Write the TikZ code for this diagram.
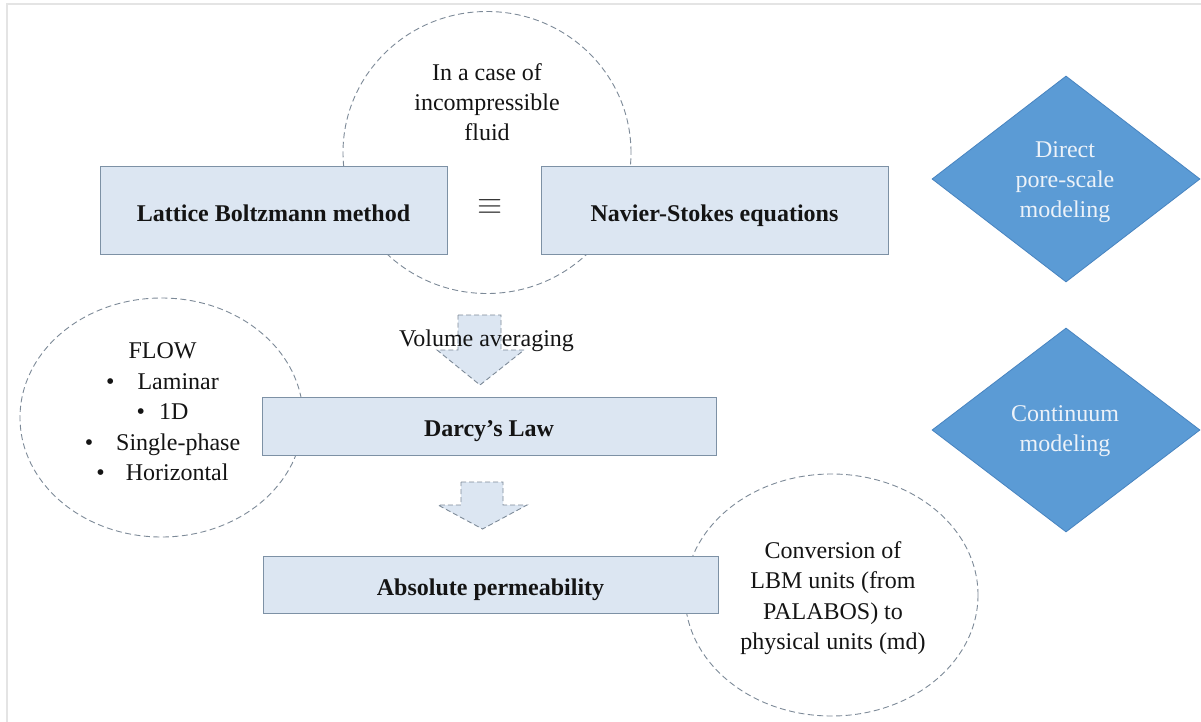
\documentclass[tikz,border=0pt]{standalone}
\usepackage{fontspec}
\setmainfont{Liberation Serif}
\usetikzlibrary{shapes.geometric}
\definecolor{boxfill}{RGB}{220,230,242}
\definecolor{boxdraw}{RGB}{125,145,165}
\definecolor{dashgray}{RGB}{125,138,152}
\definecolor{diafill}{RGB}{91,155,213}
\definecolor{diadraw}{RGB}{72,132,192}
\definecolor{diatext}{RGB}{236,242,249}
\definecolor{txt}{RGB}{20,20,20}
\definecolor{framegray}{RGB}{228,228,228}
\begin{document}
\begin{tikzpicture}[x=1pt,y=-1pt,
  box/.style={rectangle, draw=boxdraw, fill=boxfill, line width=1pt, inner sep=0pt,
    font=\fontsize{24}{30}\selectfont\bfseries, text=txt, text height=21pt, text depth=0pt},
  dashell/.style={ellipse, draw=dashgray, dash pattern=on 6pt off 3.5pt, line width=0.9pt, inner sep=0pt},
  lbl/.style={font=\fontsize{24}{30}\selectfont, text=txt, align=center, inner sep=0pt},
  dia/.style={diamond, fill=diafill, draw=diadraw, line width=0.8pt, inner sep=0pt},
  diatxt/.style={font=\fontsize{24}{30}\selectfont, text=diatext, align=center, inner sep=0pt},
  blockarrow/.style={fill=boxfill, draw=dashgray, dash pattern=on 5pt off 3pt, line width=0.9pt, line join=miter}]
% canvas
\fill[white] (0,0) rectangle (1201,722);
\useasboundingbox (0,0) rectangle (1201,722);
\draw[framegray, line width=2pt] (7,722) -- (7,4) -- (1201,4);

% dashed ellipses (behind boxes)
\node[dashell, minimum width=288pt, minimum height=282pt] (topcirc) at (487,152.5) {};
\node[dashell, minimum width=283pt, minimum height=239pt] (leftcirc) at (161.5,417.5) {};
\node[dashell, minimum width=293pt, minimum height=242pt] (rightcirc) at (831.5,595) {};

% boxes
\node[box, minimum width=347pt, minimum height=87pt] (lbm) at (273.5,210.5) {Lattice Boltzmann method};
\node[box, minimum width=347pt, minimum height=87pt] (ns) at (714.5,210.5) {Navier-Stokes equations};
\node[box, minimum width=454pt, minimum height=58pt] (darcy) at (489,426) {Darcy’s Law};
\node[box, minimum width=455pt, minimum height=57pt] (abs) at (490.5,584.5) {Absolute permeability};

\node[inner sep=0pt, font=\fontsize{24}{30}\selectfont, text=txt!85] (eq) at (490,207) {\scalebox{1.3}{$\equiv$}};

% block arrows
\draw[blockarrow] (458,315) -- (501,315) -- (501,350) -- (524,350) -- (480,385) -- (437,350) -- (458,350) -- cycle;
\draw[blockarrow] (461,482) -- (503,482) -- (503,505) -- (527,505) -- (482.5,529) -- (438,505) -- (461,505) -- cycle;
\node[lbl, anchor=base] (vol) at (486.5,346) {Volume averaging};

% texts in ellipses
\node[lbl] (toptxt) at (487,102.5) {In a case of\\incompressible\\fluid};
\node[lbl, font=\fontsize{24}{30.5}\selectfont] (lefttxt) at (162.5,412) {FLOW\\
\textbullet\hspace{23pt}Laminar\\
\textbullet\hspace{14pt}1D\\
\textbullet\hspace{23pt}Single-phase\\
\textbullet\hspace{21pt}Horizontal};
\node[lbl, font=\fontsize{24}{30.3}\selectfont] (righttxt) at (833,598) {Conversion of\\LBM units (from\\PALABOS) to\\physical units (md)};

% diamonds
\node[dia, minimum width=268pt, minimum height=206pt] (d1) at (1066,179) {};
\node[diatxt] (d1t) at (1065,182) {Direct\\pore-scale\\modeling};
\node[dia, minimum width=268pt, minimum height=204pt] (d2) at (1066,430) {};
\node[diatxt] (d2t) at (1065,431) {Continuum\\modeling};
\end{tikzpicture}
\end{document}
